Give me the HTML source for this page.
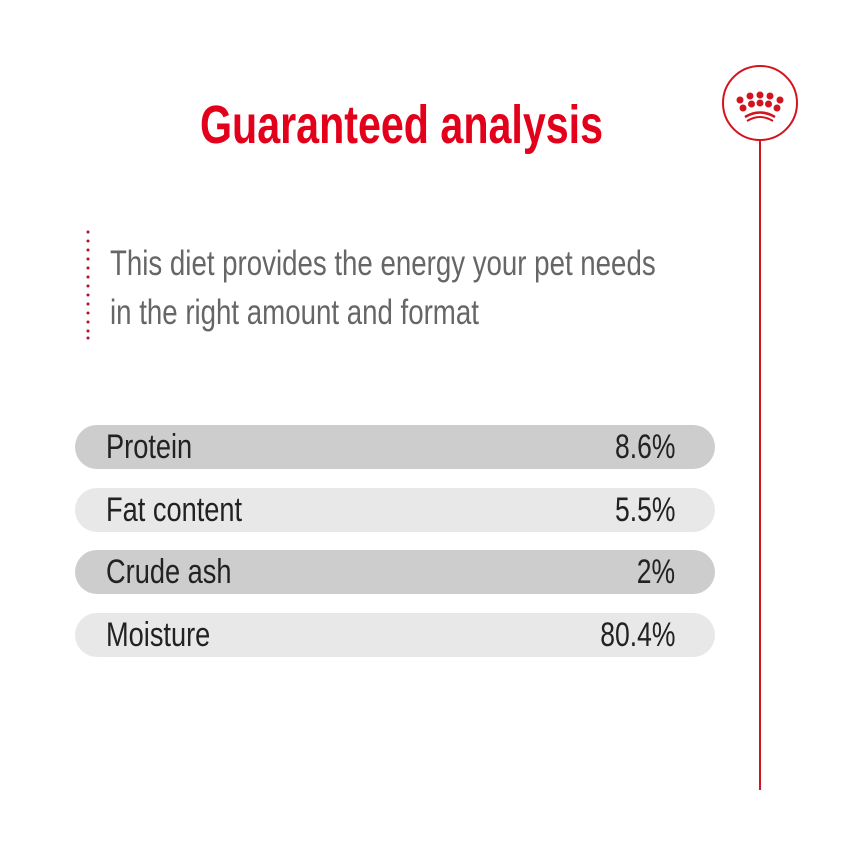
<!DOCTYPE html>
<html><head><style>
body{margin:0;width:850px;height:850px;background:#fff;position:relative;overflow:hidden;font-family:"Liberation Sans Narrow","Liberation Sans",sans-serif}
.t{position:absolute;white-space:nowrap;transform-origin:0 0}
.bar{position:absolute;left:75px;width:640px;height:44px;border-radius:22px}
.lab{position:absolute;left:106px;font-size:34px;color:#222;line-height:44px;white-space:nowrap;transform:scaleX(0.8);transform-origin:0 50%}
.val{position:absolute;right:175px;font-size:34px;color:#222;line-height:44px;white-space:nowrap;transform:scaleX(0.78);transform-origin:100% 50%}
</style></head><body>
<div class="t" style="left:200px;top:94px;font-size:54px;font-weight:bold;color:#e2001a;transform:scaleX(0.763)">Guaranteed analysis</div>
<svg style="position:absolute;left:0;top:0" width="850" height="850">
<circle cx="760" cy="103" r="37" fill="none" stroke="#d2141e" stroke-width="2"/>
<line x1="760" y1="140" x2="760" y2="790" stroke="#d2141e" stroke-width="2"/>
<g fill="#d2141e">
<circle cx="740" cy="100" r="3.5"/><circle cx="750" cy="96" r="3.5"/><circle cx="760" cy="95" r="3.5"/><circle cx="770" cy="96" r="3.5"/><circle cx="780" cy="100" r="3.5"/>
<circle cx="743" cy="108" r="3.5"/><circle cx="751.5" cy="104" r="3.5"/><circle cx="760" cy="103" r="3.5"/><circle cx="768.5" cy="104" r="3.5"/><circle cx="777" cy="108" r="3.5"/>
</g>
<path d="M745 117 Q760 108 775 117" fill="none" stroke="#d2141e" stroke-width="2.5"/>
<path d="M747 121 Q760 113 773 121" fill="none" stroke="#d2141e" stroke-width="2"/>
<g fill="#b01030">
<circle cx="88" cy="232" r="1.5"/><circle cx="88" cy="241" r="1.5"/><circle cx="88" cy="250" r="1.5"/><circle cx="88" cy="259" r="1.5"/><circle cx="88" cy="268" r="1.5"/><circle cx="88" cy="277" r="1.5"/><circle cx="88" cy="286" r="1.5"/><circle cx="88" cy="295" r="1.5"/><circle cx="88" cy="304" r="1.5"/><circle cx="88" cy="313" r="1.5"/><circle cx="88" cy="322" r="1.5"/><circle cx="88" cy="331" r="1.5"/><circle cx="88" cy="338" r="1.5"/>
</g>
</svg>
<div class="t" style="left:110px;top:239px;font-size:35px;color:#666;line-height:49px;transform:scaleX(0.79)">This diet provides the energy your pet needs<br>in the right amount and format</div>
<div class="bar" style="top:425px;background:#cdcdcd"></div>
<div class="bar" style="top:488px;background:#e8e8e8"></div>
<div class="bar" style="top:550px;background:#cdcdcd"></div>
<div class="bar" style="top:613px;background:#e8e8e8"></div>
<div class="lab" style="top:425px">Protein</div><div class="val" style="top:425px">8.6%</div>
<div class="lab" style="top:488px">Fat content</div><div class="val" style="top:488px">5.5%</div>
<div class="lab" style="top:550px">Crude ash</div><div class="val" style="top:550px">2%</div>
<div class="lab" style="top:613px">Moisture</div><div class="val" style="top:613px">80.4%</div>
</body></html>
